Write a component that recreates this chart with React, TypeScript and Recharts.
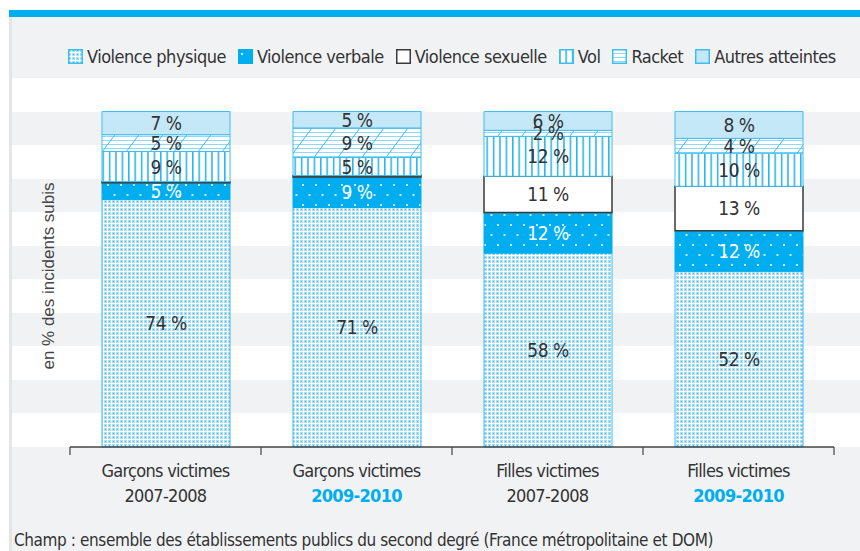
import React from 'react';
import { BarChart, Bar, XAxis, YAxis, CartesianGrid, LabelList } from 'recharts';

// categories (two-line labels) and stacked shares
const catKeys = ['g0708', 'g0910', 'f0708', 'f0910'];
const catLine1 = ['Garçons victimes', 'Garçons victimes', 'Filles victimes', 'Filles victimes'];
const catLine2 = ['2007-2008', '2009-2010', '2007-2008', '2009-2010'];
const catHighlight = [false, true, false, true];

const physique = [73.8, 71.4, 57.8, 52.4];
const verbale = [5.0, 9.1, 12.1, 12.1];
const sexuelle = [0.3, 0.4, 10.8, 13.2];
const vol = [9.0, 5.4, 11.9, 9.9];
const racket = [5.0, 8.8, 1.8, 4.4];
const autres = [6.9, 4.9, 5.6, 8.0];

const yTicks = [0, 10, 20, 30, 40, 50, 60, 70, 80, 90, 100, 110];

const data = catKeys.map((key, i) => ({
  key,
  physique: physique[i],
  verbale: verbale[i],
  sexuelle: sexuelle[i],
  vol: vol[i],
  racket: racket[i],
  autres: autres[i],
}));

const FONT = '"Liberation Sans Narrow", "DejaVu Sans Condensed", "Arial Narrow", sans-serif';
const BLUE = '#00aeef';
const EDGE = '#3dbdf0';
const TEXT = '#333333';

const series = [
  { key: 'physique', label: 'Violence physique', fill: 'url(#pat-physique)', stroke: EDGE, labelColor: TEXT },
  { key: 'verbale', label: 'Violence verbale', fill: 'url(#pat-verbale)', stroke: BLUE, labelColor: '#ffffff' },
  { key: 'sexuelle', label: 'Violence sexuelle', fill: '#ffffff', stroke: '#3a3a3a', labelColor: TEXT },
  { key: 'vol', label: 'Vol', fill: 'url(#pat-vol)', stroke: EDGE, labelColor: TEXT },
  { key: 'racket', label: 'Racket', fill: 'url(#pat-racket)', stroke: EDGE, labelColor: TEXT },
  { key: 'autres', label: 'Autres atteintes', fill: '#c5e8f8', stroke: EDGE, labelColor: TEXT },
];

const PatternDefs = () => (
  <svg width={0} height={0} style={{ position: 'absolute' }}>
    <defs>
      <pattern id="pat-physique" patternUnits="userSpaceOnUse" width={4} height={4}>
        <rect width={4} height={4} fill="#a9def7" />
        <rect x={3} y={0} width={1} height={4} fill="#ffffff" />
        <rect x={0} y={3} width={4} height={1} fill="#ffffff" />
        <rect x={1} y={1} width={1} height={1} fill="#45bff0" />
      </pattern>
      <pattern id="pat-verbale" patternUnits="userSpaceOnUse" width={13} height={20}>
        <rect width={13} height={20} fill={BLUE} />
        <rect x={3} y={4} width={2} height={2} fill="#c4ecff" />
        <rect x={9.5} y={14} width={2} height={2} fill="#c4ecff" />
      </pattern>
      <pattern id="pat-vol" patternUnits="userSpaceOnUse" width={6.4} height={10}>
        <rect width={6.4} height={10} fill="#ffffff" />
        <rect x={0} y={0} width={1.6} height={10} fill="#2db7ef" />
      </pattern>
      <pattern id="pat-racket" patternUnits="userSpaceOnUse" width={24} height={32}>
        <rect width={24} height={32} fill="#ffffff" />
        {[0, 1, 2, 3, 4, 5, 6, 7].map((k) => (
          <line key={k} x1={0} x2={24} y1={k * 4 + 0.5} y2={k * 4 + 0.5} stroke="#8fd8f6" strokeWidth={1} />
        ))}
        <line x1={0} y1={32} x2={24} y2={0} stroke="#29b6ef" strokeWidth={0.9} />
      </pattern>
    </defs>
  </svg>
);

const CategoryTick = (props: any) => {
  const { x, y, payload, index } = props;
  const i = payload?.index ?? index;
  const half = payload?.offset || 95.5;
  const hl = catHighlight[i];
  const textStyle = { letterSpacing: '-0.7px' };
  return (
    <g>
      <line x1={x - half} x2={x + half} y1={y} y2={y} stroke="#444" strokeWidth={1.4} />
      <line x1={x - half} x2={x - half} y1={y} y2={y + 8} stroke="#444" strokeWidth={1.2} />
      {i === catKeys.length - 1 && (
        <line x1={x + half} x2={x + half} y1={y} y2={y + 8} stroke="#444" strokeWidth={1.2} />
      )}
      <text x={x} y={y + 30} textAnchor="middle" fill={TEXT} fontSize={18} fontFamily={FONT} style={textStyle}>
        {catLine1[i]}
      </text>
      <text
        x={x}
        y={y + 55}
        textAnchor="middle"
        fill={hl ? BLUE : TEXT}
        fontWeight={hl ? 700 : 400}
        fontSize={18}
        fontFamily={FONT}
        style={textStyle}
      >
        {catLine2[i]}
      </text>
    </g>
  );
};

const makeLabel = (color: string) => (props: any) => {
  const { x, y, width, height, value } = props;
  if (value == null || value < 1) return null;
  return (
    <text
      x={x + width / 2}
      y={y + height / 2}
      textAnchor="middle"
      dominantBaseline="central"
      fill={color}
      fontSize={19}
      fontFamily={FONT}
      style={{ letterSpacing: '-0.5px' }}
    >
      {`${Math.round(value)} %`}
    </text>
  );
};

const Legend = () => (
  <div
    style={{
      position: 'absolute',
      left: 68,
      top: 46,
      display: 'flex',
      alignItems: 'center',
      fontFamily: FONT,
      fontSize: 18,
      letterSpacing: '-0.5px',
      color: TEXT,
      whiteSpace: 'nowrap',
    }}
  >
    {series.map((s) => (
      <div key={s.key} style={{ display: 'flex', alignItems: 'center', marginRight: 12 }}>
        <svg width={15} height={15} style={{ marginRight: 4 }}>
          <rect x={0.75} y={0.75} width={13.5} height={13.5} fill={s.fill} stroke={s.stroke} strokeWidth={1.5} />
        </svg>
        <span>{s.label}</span>
      </div>
    ))}
  </div>
);

export default function App() {
  return (
    <div style={{ position: 'absolute', left: 0, top: 0, width: 860, height: 551, background: '#ffffff', overflow: 'hidden' }}>
      <PatternDefs />
      <div style={{ position: 'absolute', left: 9, top: 10, width: 851, height: 7, background: BLUE }} />
      <div
        style={{
          position: 'absolute',
          left: 9,
          top: 17,
          width: 851,
          height: 534,
          background: '#f1f2f4',
          borderLeft: '3px solid #e4e5e7',
          boxSizing: 'border-box',
        }}
      />
      <Legend />
      <div style={{ position: 'absolute', left: 0, top: 0 }}>
        <BarChart width={860} height={551} data={data} margin={{ top: 78, right: 0, bottom: 44, left: 12 }}>
          <CartesianGrid
            vertical={false}
            stroke="none"
            horizontalFill={['#ffffff', '#f1f2f4']}
            fillOpacity={1}
          />
          <YAxis hide width={0} domain={[0, 110]} ticks={yTicks} />
          <XAxis
            dataKey="key"
            interval={0}
            axisLine={false}
            tickLine={false}
            tickSize={0}
            tickMargin={0}
            height={60}
            padding={{ left: 58, right: 26 }}
            tick={<CategoryTick />}
          />
          {series.map((s) => (
            <Bar
              key={s.key}
              dataKey={s.key}
              stackId="a"
              barSize={128}
              fill={s.fill}
              stroke={s.stroke}
              strokeWidth={s.key === 'sexuelle' ? 1.5 : 1}
              isAnimationActive={false}
            >
              <LabelList dataKey={s.key} content={makeLabel(s.labelColor)} />
            </Bar>
          ))}
        </BarChart>
      </div>
      <div
        style={{
          position: 'absolute',
          left: 49,
          top: 276,
          transform: 'translate(-50%, -50%) rotate(-90deg)',
          whiteSpace: 'nowrap',
          fontFamily: '"Liberation Sans", Arial, sans-serif',
          fontSize: 17,
          color: '#444',
        }}
      >
        en % des incidents subis
      </div>
      <div
        style={{
          position: 'absolute',
          left: 14,
          top: 530,
          fontFamily: FONT,
          fontSize: 17,
          letterSpacing: '-0.4px',
          lineHeight: '20px',
          color: TEXT,
          whiteSpace: 'nowrap',
        }}
      >
        Champ : ensemble des établissements publics du second degré (France métropolitaine et DOM)
      </div>
    </div>
  );
}
